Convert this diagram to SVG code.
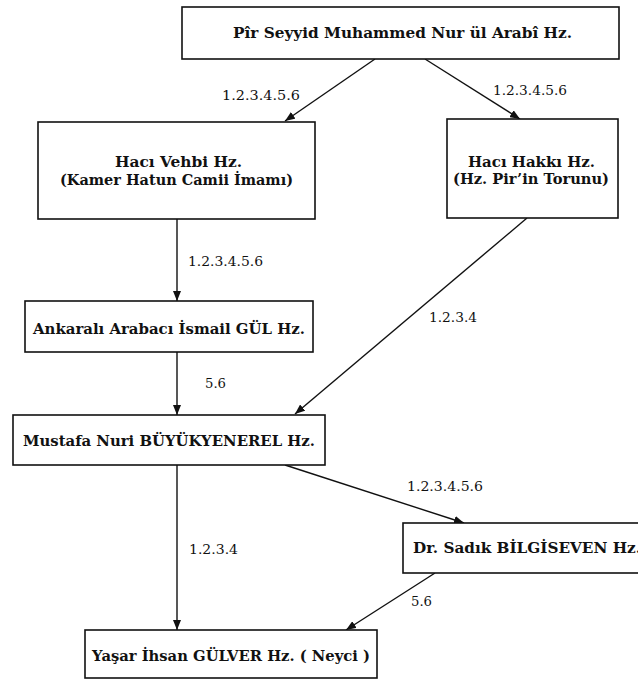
<svg xmlns="http://www.w3.org/2000/svg" width="638" height="680" viewBox="0 0 638 680">
<style>
.box{fill:#fff;stroke:#111;stroke-width:1.6}
.t{font-family:"DejaVu Serif","Liberation Serif",serif;font-weight:bold;font-size:14px;fill:#111}
.l{font-family:"DejaVu Serif","Liberation Serif",serif;font-size:13px;fill:#111}
.c{stroke:#111;stroke-width:1.4;fill:none;marker-end:url(#ah)}
</style>
<defs>
<marker id="ah" markerUnits="userSpaceOnUse" markerWidth="11" markerHeight="8" refX="10" refY="4" orient="auto">
<path d="M0,0 L10,4 L0,8 z" fill="#111"/>
</marker>
</defs>
<rect width="638" height="680" fill="#fff"/>
<g id="connectors">
<line class="c" x1="375" y1="59" x2="285" y2="121"/>
<line class="c" x1="425" y1="59" x2="520" y2="119"/>
<line class="c" x1="177" y1="219" x2="177" y2="301"/>
<line class="c" x1="527" y1="218" x2="295" y2="414"/>
<line class="c" x1="177" y1="352" x2="177" y2="415"/>
<line class="c" x1="285" y1="465" x2="464" y2="523"/>
<line class="c" x1="177" y1="465" x2="177" y2="630"/>
<line class="c" x1="435" y1="573" x2="346" y2="630"/>
<text class="l" x="222" y="100" textLength="78" lengthAdjust="spacingAndGlyphs">1.2.3.4.5.6</text>
<text class="l" x="493" y="95" textLength="74" lengthAdjust="spacingAndGlyphs">1.2.3.4.5.6</text>
<text class="l" x="188" y="266" textLength="75" lengthAdjust="spacingAndGlyphs">1.2.3.4.5.6</text>
<text class="l" x="429" y="322" textLength="48" lengthAdjust="spacingAndGlyphs">1.2.3.4</text>
<text class="l" x="205" y="388" textLength="21" lengthAdjust="spacingAndGlyphs">5.6</text>
<text class="l" x="407" y="491" textLength="76" lengthAdjust="spacingAndGlyphs">1.2.3.4.5.6</text>
<text class="l" x="189" y="554" textLength="49" lengthAdjust="spacingAndGlyphs">1.2.3.4</text>
<text class="l" x="411" y="606" textLength="21" lengthAdjust="spacingAndGlyphs">5.6</text>
</g>
<g id="pir">
<rect class="box" x="182" y="7" width="437" height="52"/>
<text class="t" x="233" y="38" textLength="339" lengthAdjust="spacingAndGlyphs">Pîr Seyyid Muhammed Nur ül Arabî Hz.</text>
</g>
<g id="vehbi">
<rect class="box" x="38" y="122" width="277" height="97"/>
<text class="t" x="115" y="167" textLength="127" lengthAdjust="spacingAndGlyphs">Hacı Vehbi Hz.</text>
<text class="t" x="60" y="185" textLength="233" lengthAdjust="spacingAndGlyphs">(Kamer Hatun Camii İmamı)</text>
</g>
<g id="hakki">
<rect class="box" x="447" y="119" width="171" height="99"/>
<text class="t" x="468" y="167" textLength="127" lengthAdjust="spacingAndGlyphs">Hacı Hakkı Hz.</text>
<text class="t" x="453" y="184" textLength="156" lengthAdjust="spacingAndGlyphs">(Hz. Pir’in Torunu)</text>
</g>
<g id="ankarali">
<rect class="box" x="25" y="301" width="288" height="51"/>
<text class="t" x="33" y="334" textLength="272" lengthAdjust="spacingAndGlyphs">Ankaralı Arabacı İsmail GÜL Hz.</text>
</g>
<g id="mustafa">
<rect class="box" x="13" y="415" width="312" height="50"/>
<text class="t" x="23" y="446" textLength="292" lengthAdjust="spacingAndGlyphs">Mustafa Nuri BÜYÜKYENEREL Hz.</text>
</g>
<g id="sadik">
<rect class="box" x="403" y="523" width="260" height="50"/>
<text class="t" x="413" y="553" textLength="228" lengthAdjust="spacingAndGlyphs">Dr. Sadık BİLGİSEVEN Hz.</text>
</g>
<g id="yasar">
<rect class="box" x="85" y="630" width="292" height="48"/>
<text class="t" x="92" y="661" textLength="278" lengthAdjust="spacingAndGlyphs">Yaşar İhsan GÜLVER Hz. ( Neyci )</text>
</g>
</svg>
